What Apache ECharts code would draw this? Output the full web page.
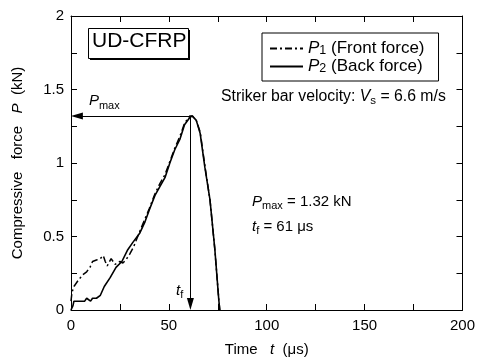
<!DOCTYPE html>
<html><head><meta charset="utf-8">
<script src="https://cdn.jsdelivr.net/npm/echarts@6/dist/echarts.min.js"></script>
<style>html,body{margin:0;padding:0;background:#fff}#c{width:478px;height:362px}</style>
</head><body><div id="c"></div>
<script>
const xTicks = [0, 50, 100, 150, 200];
const yTicks = [0, 0.5, 1, 1.5, 2];
// P1 (front force), dash-dot
const tFront = [0, 0.5, 1.5, 3.6, 6, 8, 9.7, 11, 13, 15, 16.5, 17.5, 18.5, 19.5, 20.5, 21.5, 22.5, 23.5, 25, 26.5, 28, 30, 32, 35, 37.8, 40, 42.9, 45.4, 48, 50.5, 53, 55.6, 58, 60.7, 62, 64, 66, 68.4, 71, 73.5, 75.5, 76];
const pFront = [0.06, 0.12, 0.16, 0.20, 0.24, 0.26, 0.29, 0.33, 0.34, 0.35, 0.37, 0.33, 0.30, 0.31, 0.35, 0.36, 0.31, 0.32, 0.33, 0.32, 0.34, 0.38, 0.43, 0.53, 0.62, 0.69, 0.79, 0.86, 0.92, 1.01, 1.10, 1.18, 1.27, 1.32, 1.32, 1.29, 1.21, 0.98, 0.75, 0.41, 0.07, 0];
// P2 (back force), solid
const tBack = [0, 1, 1.5, 4, 7, 8, 9, 10, 11, 12, 13, 15, 17, 20, 23, 26, 29, 31.6, 35, 37.8, 40, 42.9, 45.4, 48, 50.5, 53, 55.6, 58, 60.7, 62, 64, 66, 68.4, 71, 73.5, 75.5, 76];
const pBack = [0, 0.03, 0.06, 0.06, 0.06, 0.08, 0.07, 0.06, 0.08, 0.09, 0.08, 0.10, 0.16, 0.22, 0.29, 0.33, 0.41, 0.46, 0.52, 0.60, 0.68, 0.78, 0.84, 0.90, 1.0, 1.09, 1.16, 1.26, 1.31, 1.32, 1.29, 1.20, 0.97, 0.75, 0.41, 0.07, 0];
const pMax = 1.32, tPeak = 61.5, tF = 61;
// arrow heads sit at the end of each arrow (half of the head length in data units)
const arrowEndT = 3, arrowEndP = 0.04;

const FONT = '"Liberation Sans", Arial, sans-serif';
const chart = echarts.init(document.getElementById('c'), null, {renderer: 'canvas'});
const axisCommon = {
  axisLine: {show: true, onZero: false, lineStyle: {color: '#000', width: 1}},
  axisTick: {show: true, inside: true, length: 6, lineStyle: {color: '#000'}},
  splitLine: {show: false}
};
const richBase = {
  i: {fontStyle: 'italic', fontSize: 15, fontFamily: FONT, color: '#000'},
  s: {fontSize: 11, fontFamily: FONT, color: '#000', verticalAlign: 'bottom', lineHeight: 20, padding: [6, 0, 0, 0]},
  n: {fontSize: 15, fontFamily: FONT, color: '#000'}
};
const richBig = {
  i: {fontStyle: 'italic', fontSize: 17, fontFamily: FONT, color: '#000', lineHeight: 17},
  s: {fontSize: 12.5, fontFamily: FONT, color: '#000', verticalAlign: 'bottom', lineHeight: 17, padding: [5, 0, 0, 0]}
};
chart.setOption({
  animation: false,
  backgroundColor: '#fff',
  grid: {left: 71, right: 15, top: 16, bottom: 52, containLabel: false},
  xAxis: [
    Object.assign({type: 'value', min: xTicks[0], max: xTicks[xTicks.length - 1], interval: 25,
      name: 'Time   {i|t}  (μs)', nameLocation: 'middle', nameGap: 32,
      nameTextStyle: {fontSize: 15, fontFamily: FONT, color: '#000', rich: richBase},
      axisLabel: {fontSize: 15, fontFamily: FONT, color: '#000', margin: 8,
        formatter: v => xTicks.indexOf(v) >= 0 ? String(v) : ''}}, axisCommon),
    Object.assign({type: 'value', position: 'top', min: xTicks[0], max: xTicks[xTicks.length - 1], interval: 25,
      axisLabel: {show: false}}, axisCommon)
  ],
  yAxis: [
    Object.assign({type: 'value', min: yTicks[0], max: yTicks[yTicks.length - 1], interval: 0.25,
      name: 'Compressive   force   {i|P}  (kN)', nameLocation: 'middle', nameGap: 46,
      nameTextStyle: {fontSize: 15, fontFamily: FONT, color: '#000', rich: richBase},
      axisLabel: {fontSize: 15, fontFamily: FONT, color: '#000', margin: 7,
        formatter: v => yTicks.indexOf(v) >= 0 ? String(v) : ''}}, axisCommon),
    Object.assign({type: 'value', position: 'right', min: yTicks[0], max: yTicks[yTicks.length - 1], interval: 0.25,
      axisLabel: {show: false}}, axisCommon)
  ],
  legend: {
    show: true, left: 262, top: 33, orient: 'vertical', itemWidth: 33, itemHeight: 12, itemGap: 0,
    padding: [6, 14, 6, 7], borderColor: '#000', borderWidth: 1, backgroundColor: '#fff',
    itemStyle: {opacity: 0},
    data: ['P1', 'P2'],
    formatter: n => n === 'P1' ? '{i|P}{s|1} (Front force)' : '{i|P}{s|2} (Back force)',
    textStyle: {fontSize: 17, lineHeight: 17, fontFamily: FONT, color: '#000', rich: richBig}
  },
  series: [
    {name: 'P1', type: 'line', data: tFront.map((t, i) => [t, pFront[i]]), symbol: 'none', showSymbol: false,
      lineStyle: {color: '#000', width: 1.5, type: [7, 3, 2, 3]}, itemStyle: {color: '#000'}, z: 3},
    {name: 'P2', type: 'line', data: tBack.map((t, i) => [t, pBack[i]]), symbol: 'none', showSymbol: false,
      lineStyle: {color: '#000', width: 1.6}, itemStyle: {color: '#000'}, z: 4,
      markLine: {
        silent: true, animation: false,
        lineStyle: {color: '#000', width: 1, type: 'solid'},
        label: {show: false},
        symbolSize: [7, 12],
        data: [
          [{coord: [tPeak, pMax], symbol: 'none'}, {coord: [arrowEndT, pMax], symbol: 'triangle'}],
          [{coord: [tF, pMax], symbol: 'none'}, {coord: [tF, arrowEndP], symbol: 'triangle'}]
        ]
      },
      markPoint: {
        silent: true, symbol: 'circle', symbolSize: 0,
        data: [
          {coord: [17, 1.42], label: {show: true, formatter: '{i|P}{s|max}', rich: richBase}},
          {coord: [55.5, 0.13], label: {show: true, formatter: '{i|t}{s|f}', rich: richBase}}
        ]
      }
    }
  ],
  graphic: [
    {type: 'rect', left: 90, top: 30, shape: {width: 100, height: 30}, style: {fill: '#000'}, z: 10},
    {type: 'rect', left: 88, top: 28, shape: {width: 100, height: 30}, style: {fill: '#fff', stroke: '#000', lineWidth: 1}, z: 11},
    {type: 'text', left: 92, top: 31, z: 12, style: {text: 'UD-CFRP', font: '21px ' + FONT, fill: '#000'}},
    {type: 'text', left: 221, top: 89, z: 12, style: {text: 'Striker bar velocity: {i|V}{s|s} = 6.6 m/s', font: '15.8px ' + FONT, fill: '#000',
      rich: {i: {fontStyle: 'italic', fontSize: 15.8, fontFamily: FONT}, s: {fontSize: 11.5, fontFamily: FONT, verticalAlign: 'bottom', lineHeight: 20, padding: [6, 0, 0, 0]}}}},
    {type: 'text', left: 252, top: 194, z: 12, style: {text: '{i|P}{s|max} = 1.32 kN', font: '15px ' + FONT, fill: '#000', rich: richBase}},
    {type: 'text', left: 252, top: 219, z: 12, style: {text: '{i|t}{s|f} = 61 μs', font: '15px ' + FONT, fill: '#000', rich: richBase}}
  ]
});
</script></body></html>
